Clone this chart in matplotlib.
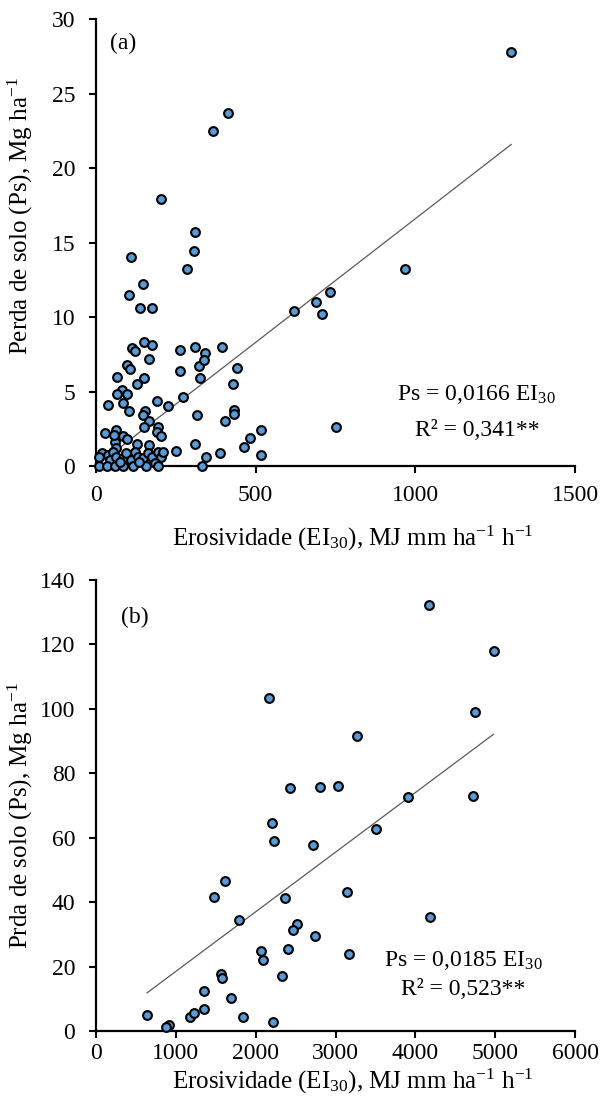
import matplotlib
matplotlib.use('Agg')
import matplotlib.pyplot as plt
import numpy as np

plt.rcParams['font.family'] = ['Liberation Serif', 'DejaVu Serif']
plt.rcParams['mathtext.fontset'] = 'custom'
plt.rcParams['mathtext.rm'] = 'Liberation Serif'
plt.rcParams['mathtext.default'] = 'regular'

# panel (a): erosivity x soil loss
ei_a = [1300, 414, 365, 202, 311, 307, 286, 111, 146, 103, 139, 175, 968, 620, 689, 707, 732,
        150, 175, 113, 122, 262, 310, 342, 393, 166, 96, 107, 67, 262, 321, 337, 442,
        151, 325, 127, 429, 82, 65, 96, 86, 102, 38, 191, 227, 274, 153, 148, 166, 317,
        405, 433, 433, 750, 28, 62, 150, 193, 86, 98, 60, 56, 190, 204, 517, 482, 465,
        311, 252, 127, 166, 64, 388, 517, 345, 333, 18, 10, 38, 44, 54, 64, 85, 93, 111,
        121, 130, 147, 163, 176, 194, 204, 210, 184, 10, 33, 59, 85, 116, 158, 194, 136, 76]
ps_a = [27.8, 23.7, 22.5, 17.9, 15.7, 14.4, 13.2, 14.0, 12.2, 11.5, 10.6, 10.6, 13.2, 10.4, 11.0, 10.2, 11.7,
        8.3, 8.1, 7.9, 7.7, 7.8, 8.0, 7.6, 8.0, 7.2, 6.8, 6.5, 6.0, 6.4, 6.7, 7.1, 6.6,
        5.9, 5.9, 5.5, 5.5, 5.1, 4.8, 4.8, 4.2, 3.7, 4.1, 4.35, 4.0, 4.6, 3.7, 3.4, 3.0, 3.4,
        3.0, 3.75, 3.5, 2.6, 2.2, 2.4, 2.6, 2.6, 2.0, 1.8, 1.6, 2.1, 2.3, 2.0, 2.4, 1.85, 1.3,
        1.5, 1.0, 1.5, 1.4, 1.2, 0.9, 0.75, 0.6, 0.0, 0.9, 0.58, 0.74, 0.4, 0.96, 0.63, 0.51, 0.85, 0.4,
        0.96, 0.58, 0.51, 0.85, 0.58, 0.96, 0.63, 0.96, 0.18, 0, 0, 0, 0, 0, 0, 0, 0.25, 0.25]
slope_a = 0.0166

# panel (b)
ei_b = [2172, 3269, 2424, 2805, 3029, 2201, 2234, 2714, 3505, 1613, 1484, 2362, 3141, 1791,
        2520, 2470, 2743, 2072, 2089, 2408, 3174, 1563, 1580, 1356, 1696, 2329, 640, 1178,
        1232, 1356, 1836, 2217, 909, 880, 4979, 4750, 3912, 4717, 4188, 4170]
ps_b = [103.4, 91.6, 75.3, 75.7, 76.0, 64.6, 59.0, 57.8, 62.6, 46.7, 41.6, 41.2, 43.2, 34.4,
        33.3, 31.2, 29.4, 24.9, 22.1, 25.3, 23.8, 17.8, 16.5, 12.3, 10.3, 17.0, 5.0, 4.3,
        5.7, 6.7, 4.3, 2.7, 2.0, 1.1, 118.1, 98.9, 72.5, 73.0, 35.5, 132.1]
slope_b = 0.0185

fig = plt.figure(figsize=(6.03, 11.13), dpi=100)
ax1 = fig.add_axes([0.1592, 0.5813, 0.7944, 0.4016])
ax2 = fig.add_axes([0.1592, 0.0737, 0.7944, 0.4052])

fs = 17
fs_title = 18

def style(ax, xpad):
    for s in ['top', 'right']:
        ax.spines[s].set_visible(False)
    for s in ['left', 'bottom']:
        ax.spines[s].set_linewidth(1.6)
    ax.tick_params(axis='both', direction='out', length=5, width=1.5, labelsize=fs)
    ax.tick_params(axis='y', pad=10)
    ax.tick_params(axis='x', pad=xpad)

def panel(ax, x, y, slope):
    xl = np.array([min(x), max(x)])
    ax.plot(xl, slope * xl, color='#595959', lw=0.9, zorder=2)
    ax.scatter(x, y, s=40, c='#5b9bd5', edgecolors='black', linewidths=1.5, zorder=3, clip_on=False)

panel(ax1, ei_a, ps_a, slope_a)
ax1.set_xlim(0, 1500)
ax1.set_ylim(0, 30)
ax1.set_xticks([0, 500, 1000, 1500])
ax1.set_yticks(range(0, 31, 5))
style(ax1, 9)
ax1.set_xlabel(r'Erosividade (EI$_{30}$), MJ mm ha$^{-1}$ h$^{-1}$', fontsize=fs_title)
ax1.set_ylabel(r'Perda de solo (Ps), Mg ha$^{-1}$', fontsize=fs_title)
ax1.xaxis.set_label_coords(0.537, -0.13)
ax1.yaxis.set_label_coords(-0.128, 0.56)
ax1.text(0.03, 0.946, '(a)', transform=ax1.transAxes, fontsize=fs, va='center')
ax1.text(0.795, 0.159, r'Ps = 0,0166 EI$_{30}$', transform=ax1.transAxes, fontsize=fs,
         ha='center', va='center')
ax1.text(0.795, 0.08, 'R² = 0,341**', transform=ax1.transAxes, fontsize=fs,
         ha='center', va='center')

panel(ax2, ei_b, ps_b, slope_b)
ax2.set_xlim(0, 6000)
ax2.set_ylim(0, 140)
ax2.set_xticks(range(0, 6001, 1000))
ax2.set_yticks(range(0, 141, 20))
style(ax2, 4)
ax2.set_xlabel(r'Erosividade (EI$_{30}$), MJ mm ha$^{-1}$ h$^{-1}$', fontsize=fs_title)
ax2.set_ylabel(r'Prda de solo (Ps), Mg ha$^{-1}$', fontsize=fs_title)
ax2.xaxis.set_label_coords(0.537, -0.08)
ax2.yaxis.set_label_coords(-0.128, 0.477)
ax2.text(0.052, 0.916, '(b)', transform=ax2.transAxes, fontsize=fs, va='center')
ax2.text(0.766, 0.157, r'Ps = 0,0185 EI$_{30}$', transform=ax2.transAxes, fontsize=fs,
         ha='center', va='center')
ax2.text(0.766, 0.091, 'R² = 0,523**', transform=ax2.transAxes, fontsize=fs,
         ha='center', va='center')

plt.savefig('out.png', dpi=100)
